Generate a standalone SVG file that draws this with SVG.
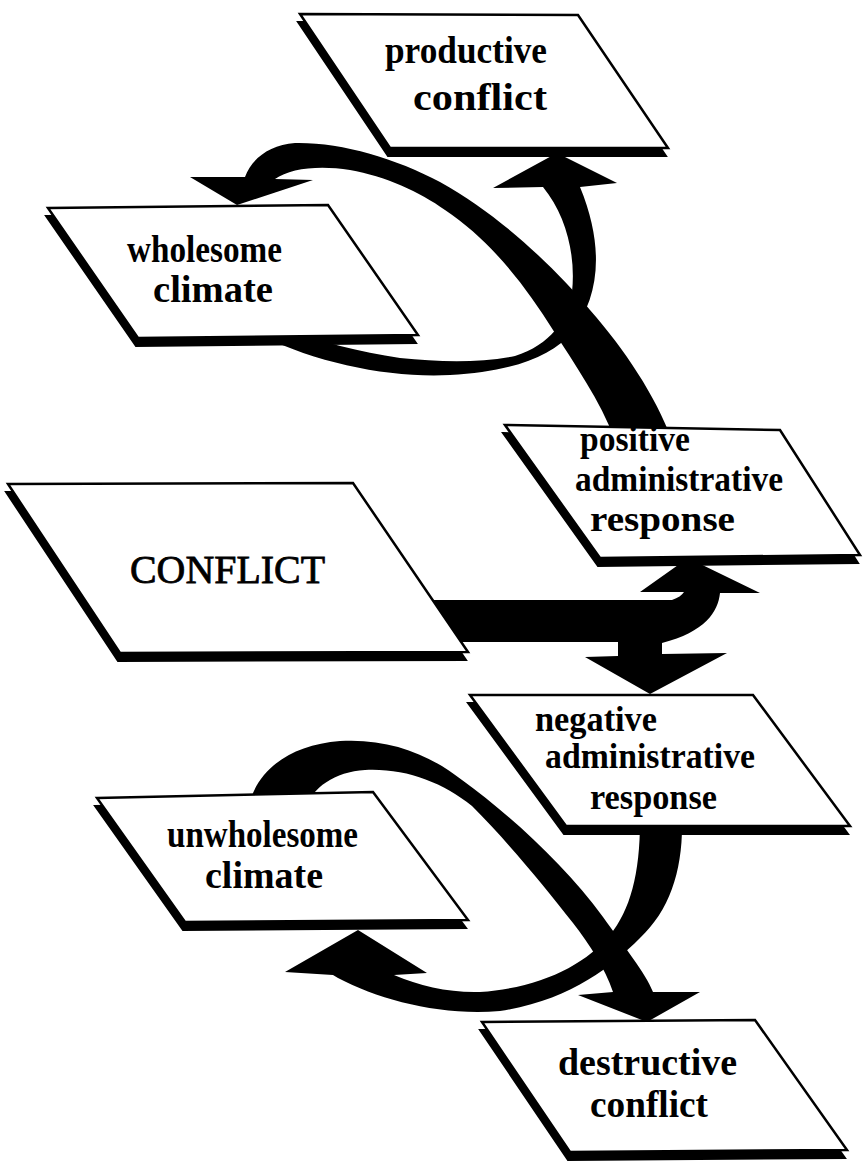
<svg xmlns="http://www.w3.org/2000/svg" width="863" height="1162" viewBox="0 0 863 1162">
<style>
.bg{fill:#ffffff}
.band{fill:#000000;stroke:none}
.shadow{fill:#000000;stroke:#000000;stroke-width:2}
.box{fill:#ffffff;stroke:#000000;stroke-width:2.5;stroke-linejoin:miter}
.t{font-family:"Liberation Serif","Times New Roman",serif;font-weight:bold;font-size:38px;fill:#000000}
.s{font-size:36px}
.big{font-family:"Liberation Serif","Times New Roman",serif;font-weight:normal;font-size:40px;fill:#000000;stroke:#000000;stroke-width:0.8}
</style>
<rect class="bg" x="0" y="0" width="863" height="1162"/>
<g id="connectors">
  <path id="c-positive-wholesome" class="band" d="M 615,440 L 672,440 C 655,395 625,350 590,310 C 555,268 500,215 440,182 C 395,158 340,142 295,143 C 270,145 252,158 245,177 L 190,177 L 237,205 L 313,180 L 275,179 C 290,168 320,165 350,170 C 385,176 420,192 445,210 C 490,240 525,285 553,330 C 575,365 600,400 615,440 Z"/>
  <path id="c-wholesome-productive" class="band" d="M 262,336 C 320,364 390,378 450,375 C 510,372 552,357 572,332 C 598,300 606,250 580,187 L 617,183 L 557,153 L 493,188 L 543,187 C 566,215 576,255 572,292 C 568,320 550,345 515,356 C 480,363 440,362 400,358 C 360,352 320,342 282,328 Z"/>
  <path id="c-conflict-responses" class="band" d="M 420,600 L 672,600 C 678,598 682,595 684,592 L 640,592 L 688,558 L 760,593 L 720,593 C 718,612 705,632 662,643 L 662,654 L 727,653 L 650,694 L 585,657 L 618,656 L 618,642 L 420,642 Z"/>
  <path id="c-negative-unwholesome" class="band" d="M 638,820 L 682,820 C 683,870 670,910 640,938 C 610,968 570,1000 500,1011 C 440,1016 380,1000 338,978 L 333,975 L 285,972 L 358,930 L 427,973 L 394,975 C 420,986 450,993 480,992 C 540,988 585,965 610,935 C 630,910 640,875 640,820 Z"/>
  <path id="c-unwholesome-destructive" class="band" d="M 248,810 C 255,770 290,745 340,741 C 390,738 430,755 462,780 C 510,815 565,865 603,917 C 625,948 645,972 653,992 L 700,992 L 647,1022 L 578,995 L 613,992 C 605,968 590,945 573,923 C 545,887 508,842 472,806 C 442,782 405,768 365,770 C 335,772 312,787 305,810 Z"/>
</g>
<g id="node-productive">
  <polygon class="shadow" transform="translate(-2,8)" points="300,14 578,15 668,148 390,148"/>
  <polygon class="box" points="300,14 578,15 668,148 390,148"/>
  <text class="t" x="385" y="63" textLength="162" lengthAdjust="spacingAndGlyphs">productive</text>
  <text class="t" x="413" y="110" textLength="134" lengthAdjust="spacingAndGlyphs">conflict</text>
</g>
<g id="node-wholesome">
  <polygon class="shadow" transform="translate(-2,8)" points="48,208 328,205 418,335 138,338"/>
  <polygon class="box" points="48,208 328,205 418,335 138,338"/>
  <text class="t" x="127" y="262" textLength="155" lengthAdjust="spacingAndGlyphs">wholesome</text>
  <text class="t" x="153" y="302" textLength="120" lengthAdjust="spacingAndGlyphs">climate</text>
</g>
<g id="node-positive">
  <polygon class="shadow" transform="translate(-2,8)" points="505,425 780,430 860,555 600,558"/>
  <polygon class="box" points="505,425 780,430 860,555 600,558"/>
  <text class="t s" x="580" y="451" textLength="110" lengthAdjust="spacingAndGlyphs">positive</text>
  <text class="t s" x="575" y="491" textLength="208" lengthAdjust="spacingAndGlyphs">administrative</text>
  <text class="t s" x="590" y="531" textLength="145" lengthAdjust="spacingAndGlyphs">response</text>
</g>
<g id="node-conflict">
  <polygon class="shadow" transform="translate(-2,8)" points="8,484 353,483 468,652 120,653"/>
  <polygon class="box" points="8,484 353,483 468,652 120,653"/>
  <text class="big" x="130" y="583" textLength="195" lengthAdjust="spacingAndGlyphs">CONFLICT</text>
</g>
<g id="node-negative">
  <polygon class="shadow" transform="translate(-2,8)" points="470,695 753,695 850,826 566,826"/>
  <polygon class="box" points="470,695 753,695 850,826 566,826"/>
  <text class="t s" x="535" y="731" textLength="122" lengthAdjust="spacingAndGlyphs">negative</text>
  <text class="t s" x="545" y="768" textLength="210" lengthAdjust="spacingAndGlyphs">administrative</text>
  <text class="t s" x="590" y="809" textLength="127" lengthAdjust="spacingAndGlyphs">response</text>
</g>
<g id="node-unwholesome">
  <polygon class="shadow" transform="translate(-2,8)" points="97,798 373,792 468,920 185,922"/>
  <polygon class="box" points="97,798 373,792 468,920 185,922"/>
  <text class="t" x="167" y="847" textLength="191" lengthAdjust="spacingAndGlyphs">unwholesome</text>
  <text class="t" x="205" y="888" textLength="118" lengthAdjust="spacingAndGlyphs">climate</text>
</g>
<g id="node-destructive">
  <polygon class="shadow" transform="translate(-2,8)" points="482,1022 755,1020 847,1150 570,1152"/>
  <polygon class="box" points="482,1022 755,1020 847,1150 570,1152"/>
  <text class="t" x="558" y="1075" textLength="179" lengthAdjust="spacingAndGlyphs">destructive</text>
  <text class="t" x="590" y="1117" textLength="118" lengthAdjust="spacingAndGlyphs">conflict</text>
</g>
</svg>
